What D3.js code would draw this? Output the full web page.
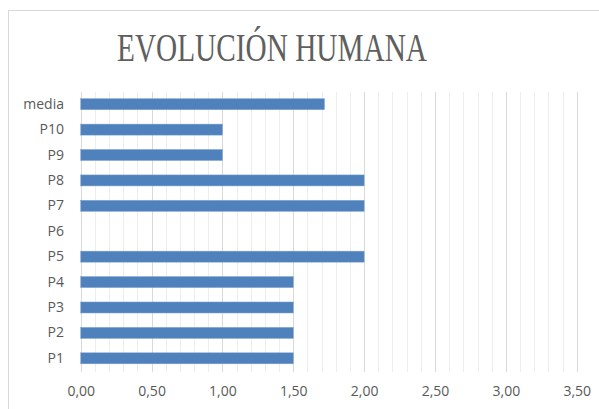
<!DOCTYPE html>
<html><head><meta charset="utf-8">
<script src="https://cdn.jsdelivr.net/npm/d3@7"></script>
<style>body{margin:0;background:#fff}svg{display:block}</style>
</head><body>
<svg id="c" width="599" height="409"></svg>
<script>
const categories = ["P1","P2","P3","P4","P5","P6","P7","P8","P9","P10","media"];
const values = [1.5,1.5,1.5,1.5,2,0,2,2,1,1,1.72];
const majorTicks = [0,0.5,1,1.5,2,2.5,3,3.5];
const minorTicks = d3.range(0,36).map(i=>i/10);
const title = "EVOLUCIÓN HUMANA";

const svg = d3.select("#c");
svg.append("rect").attr("x",8.5).attr("y",10.5).attr("width",620).attr("height",420)
  .attr("fill","#fff").attr("stroke","#d9d9d9");

const x = d3.scaleLinear().domain([0,3.5]).range([80.7,576.7]);
const y = d3.scaleBand().domain(categories.slice().reverse()).range([91.5,371]).paddingInner(0.567).paddingOuter(0.283);

svg.append("g").selectAll("line").data(minorTicks).join("line")
  .attr("x1",d=>Math.round(x(d))+0.5).attr("x2",d=>Math.round(x(d))+0.5)
  .attr("y1",92).attr("y2",372).attr("stroke","#ededed").attr("stroke-width",1);
svg.append("g").selectAll("line").data(majorTicks).join("line")
  .attr("x1",d=>Math.round(x(d))+0.5).attr("x2",d=>Math.round(x(d))+0.5)
  .attr("y1",92).attr("y2",372).attr("stroke","#d9d9d9").attr("stroke-width",1);

svg.append("g").selectAll("rect").data(categories).join("rect")
  .attr("x",x(0)).attr("y",d=>y(d))
  .attr("width",(d,i)=>x(values[i])-x(0)).attr("height",y.bandwidth())
  .attr("fill","#4f81bd").attr("stroke",(d,i)=>values[i]>0?"#7fa3d0":"none").attr("stroke-width",0.5);

const yAxis = d3.axisLeft(y).tickSize(0).tickPadding(0);
const gy = svg.append("g").attr("transform","translate(64,0)").call(yAxis);
gy.select(".domain").remove();
gy.selectAll("text").attr("font-family","Open Sans").attr("font-size",14).attr("fill","#595959");

const xAxis = d3.axisBottom(x).tickValues(majorTicks).tickSize(0).tickPadding(0)
  .tickFormat(d=>d3.format(".2f")(d).replace(".",","));
const gx = svg.append("g").attr("transform","translate(0,386)").call(xAxis);
gx.select(".domain").remove();
gx.selectAll("text").attr("font-family","Open Sans").attr("font-size",14).attr("fill","#595959");

svg.append("text").attr("x",272).attr("y",61).attr("text-anchor","middle")
  .attr("font-family","Liberation Serif").attr("font-size",39).attr("fill","#5f5f5f")
  .attr("textLength",310).attr("lengthAdjust","spacingAndGlyphs").text(title);
</script>
</body></html>
